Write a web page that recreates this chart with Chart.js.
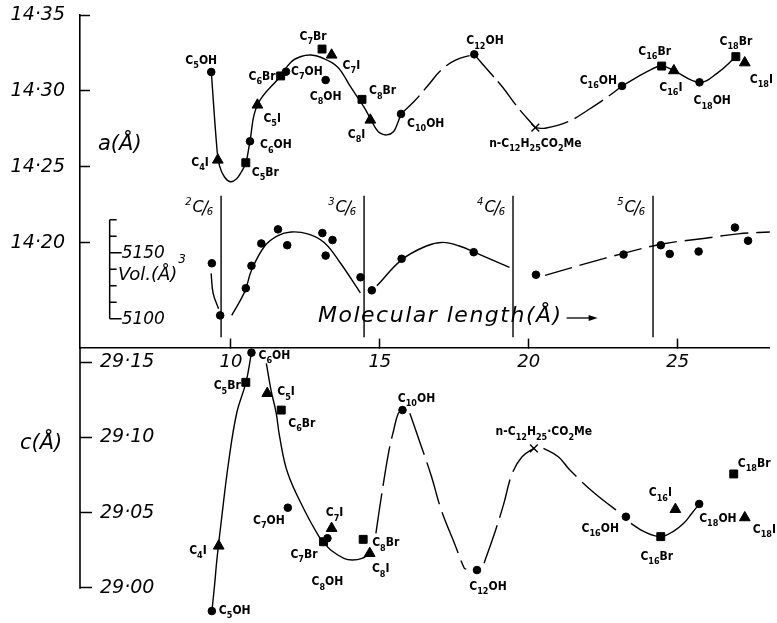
<!DOCTYPE html>
<html>
<head>
<meta charset="utf-8">
<script src="https://cdn.jsdelivr.net/npm/chart.js@4.4.0/dist/chart.umd.min.js"></script>
<style>
  html, body { margin: 0; padding: 0; background: #fff; }
</style>
</head>
<body>
<canvas id="chart" width="777" height="623"></canvas>
<script>
// compounds, in the order they are plotted in every panel
const compounds = ['C5OH', 'C4I', 'C5Br', 'C6OH', 'C5I', 'C6Br', 'C7OH', 'C7Br', 'C7I', 'C8OH', 'C8Br',
  'C8I', 'C10OH', 'C12OH', 'n-C12H25CO2Me', 'C16OH', 'C16Br', 'C16I', 'C18OH', 'C18Br', 'C18I'];

// molecular length (Å) as placed in each panel
const lengthsA = [9.34, 9.56, 10.50, 10.64, 10.89, 11.67, 11.85, 13.06, 13.38, 13.18, 14.40,
  14.68, 15.71, 18.17, 20.22, 23.13, 24.46, 24.87, 25.73, 26.95, 27.25];
const lengthsC = [9.36, 9.59, 10.50, 10.69, 11.22, 11.69, 11.91, 13.11, 13.38, 13.24, 14.44,
  14.66, 15.76, 18.26, 20.17, 23.26, 24.43, 24.92, 25.72, 26.88, 27.25];
const lengthsV = [9.36, 9.64, 10.50, 10.69, 11.02, 11.58, 11.89, 13.07, 13.41, 13.18, 14.35,
  14.73, 15.73, 18.15, 20.24, 23.18, 24.43, 24.73, 25.70, 26.92, 27.36];

// cell parameters and volume
const aValues = [14.3125, 14.2546, 14.2528, 14.2669, 14.2908, 14.3099, 14.3127, 14.3276, 14.3237, 14.3072, 14.2945,
  14.2809, 14.2849, 14.3241, 14.2759, 14.3033, 14.3164, 14.3134, 14.3057, 14.3226, 14.3186];
const cValues = [28.9847, 29.0279, 29.1365, 29.1562, 29.1292, 29.1181, 29.0533, 29.0307, 29.0396, 29.0330, 29.0323,
  29.0230, 29.1181, 29.0119, 29.0927, 29.0473, 29.0341, 29.0522, 29.0558, 29.0757, 29.0467];
const volValues = [5142.1, 5102.6, 5123.2, 5140.2, 5157.1, 5167.8, 5155.8, 5165.0, 5159.7, 5147.9, 5131.5,
  5121.6, 5145.5, 5150.5, 5133.4, 5148.7, 5155.8, 5149.2, 5151.0, 5169.2, 5159.2];

// ticks
const xTicks = [10, 15, 20, 25];
const aTicks = [14.20, 14.25, 14.30, 14.35];
const cTicks = [29.00, 29.05, 29.10, 29.15];
const volTicks = [5100, 5112.5, 5125, 5137.5, 5150, 5162.5, 5175];
const volTickLabels = [5100, 5150];

// multiples of c/6
const cSixths = [9.67, 14.47, 19.47, 24.17];
const cSixthsLabels = ['2', '3', '4', '5'];

// hand-drawn guide curves
const curveA1 = [[9.342, 14.3125], [9.535, 14.2612], [9.618, 14.2507], [9.784, 14.2434], [9.983, 14.2403],
  [10.183, 14.2421], [10.349, 14.2467], [10.505, 14.2528], [10.638, 14.2669], [10.890, 14.2908],
  [11.668, 14.3099], [12.020, 14.3191], [12.352, 14.3227], [12.684, 14.3237], [13.017, 14.3222],
  [13.571, 14.3160], [14.013, 14.3028], [14.458, 14.2897], [14.678, 14.2820], [14.834, 14.2763],
  [15.000, 14.2724], [15.233, 14.2711], [15.455, 14.2732], [15.598, 14.2789], [15.708, 14.2849]];
const curveA2 = [[15.708, 14.2849], [16.163, 14.2934], [16.628, 14.3039], [17.060, 14.3138], [17.558, 14.3204], [18.166, 14.3241]];
const curveA3 = [[18.166, 14.3241], [18.621, 14.3138], [19.110, 14.3028], [19.618, 14.2895], [20.216, 14.2759]];
const curveA4 = [[20.216, 14.2759], [20.548, 14.2755], [21.322, 14.2798], [21.987, 14.2875], [22.651, 14.2962], [23.130, 14.3033]];
const curveA5 = [[23.130, 14.3033], [23.970, 14.3127], [24.458, 14.3164], [24.867, 14.3134], [25.731, 14.3057], [26.329, 14.3118], [26.950, 14.3226]];

const curveV1 = [[9.336, 5134.5], [9.402, 5119.5], [9.585, 5107.6]];
const curveV2 = [[10.027, 5102.6], [10.472, 5121.0], [10.691, 5136.8], [11.136, 5155.2], [11.578, 5163.1],
  [12.020, 5165.8], [12.575, 5164.4], [13.130, 5157.9], [13.681, 5142.1], [14.346, 5119.7]];
const curveV3 = [[14.900, 5125.0], [15.731, 5144.7], [16.561, 5155.2], [17.116, 5157.9], [17.668, 5155.2], [18.223, 5150.0], [19.352, 5139.0]];
const curveV4 = [[20.548, 5132.9], [21.877, 5141.6], [23.206, 5149.8], [24.535, 5156.9], [25.864, 5160.9], [27.027, 5164.4], [28.09, 5165.8]];

const curveC1 = [[9.362, 28.9847], [9.452, 29.0020], [9.528, 29.0186], [9.694, 29.0473], [9.917, 29.0828],
  [10.193, 29.1160], [10.505, 29.1365], [10.691, 29.1562]];
const curveC2 = [[11.189, 29.1491], [11.346, 29.1314], [11.522, 29.1159], [11.635, 29.1004], [11.910, 29.0761],
  [12.465, 29.0518], [12.963, 29.0340], [13.106, 29.0307], [13.349, 29.0252], [13.794, 29.0197],
  [14.070, 29.0186], [14.402, 29.0197], [14.658, 29.0230]];
const curveC3 = [[14.867, 29.0363], [15.033, 29.0584], [15.289, 29.0894], [15.465, 29.1049], [15.621, 29.1160], [15.764, 29.1181]];
const curveC4 = [[16.007, 29.1160], [16.395, 29.0938], [16.728, 29.0743], [17.060, 29.0518], [17.502, 29.0297], [17.834, 29.0131], [17.90, 29.0125]];
const curveC5 = [[18.498, 29.0164], [18.887, 29.0385], [19.163, 29.0562], [19.442, 29.0761], [19.774, 29.0871], [20.173, 29.0927]];
const curveC6 = [[20.492, 29.0927], [20.990, 29.0871], [21.379, 29.0783], [22.209, 29.0629], [23.150, 29.0485]];
const curveC7 = [[23.429, 29.0429], [23.870, 29.0374], [24.425, 29.0341], [24.867, 29.0378], [25.199, 29.0429], [25.475, 29.0496], [25.721, 29.0558]];

// label offsets [dx, dy, align] relative to each marker
const labelPosA = [
  [-10, -11, 'center'], [-9, 3, 'right'], [6, 10, 'left'], [10, 4, 'left'], [6, 14, 'left'],
  [-5, 1, 'right'], [5, 0, 'left'], [-9, -12, 'center'], [11, 11, 'left'], [0, 17, 'center'],
  [7, -8, 'left'], [-5, 15, 'right'], [6, 10, 'left'], [-8, -13, 'left'], [0, 16, 'center'],
  [-5, -5, 'right'], [-7, -14, 'center'], [-3, 17, 'center'], [-6, 19, 'left'], [0, -15, 'center'], [5, 17, 'left']
];
const labelPosC = [
  [7, 0, 'left'], [-12, 5, 'right'], [-5, 4, 'right'], [7, 3, 'left'], [10, -1, 'left'],
  [7, 14, 'left'], [-3, 13, 'right'], [-6, 13, 'right'], [3, -15, 'center'], [0, 44, 'center'],
  [9, 4, 'left'], [11, 16, 'center'], [14, -11, 'center'], [11, 17, 'center'], [10, -16, 'center'],
  [-7, 12, 'right'], [-4, 20, 'center'], [-15, -16, 'center'], [0, 15, 'left'], [4, -10, 'left'], [8, 12, 'left']
];

const volAxisX = 5.93;
const FONT = '"DejaVu Sans"';
const LABEL_FONT = '"DejaVu Sans Condensed"';

const styleOf = n => n.endsWith('OH') ? 'circle' : n.endsWith('Br') ? 'rect' : n.endsWith('I') ? 'triangle' : 'crossRot';
const sizeOf = { circle: 3.8, rect: 5.6, triangle: 6.2, crossRot: 5.5 };
const pts = (xs, ys) => xs.map((x, i) => ({ x, y: ys[i] }));

function curve(arr, axis, dash) {
  return {
    data: arr.map(([x, y]) => ({ x, y })),
    yAxisID: axis,
    showLine: true,
    pointRadius: 0,
    borderColor: '#000',
    borderWidth: 1.4,
    borderDash: dash || [],
    tension: 0.4,
    clip: false
  };
}

function markers(xs, ys, axis, names, pos) {
  return {
    data: pts(xs, ys),
    yAxisID: axis,
    showLine: false,
    pointStyle: names.map(styleOf),
    pointRadius: names.map(n => sizeOf[styleOf(n)]),
    pointBorderWidth: names.map(n => styleOf(n) === 'crossRot' ? 1.4 : 1),
    backgroundColor: '#000',
    borderColor: '#000',
    clip: false,
    labels: names,
    labelPos: pos
  };
}

// draw chemical text with digit runs as subscripts
function drawChem(ctx, text, x, y, align, size) {
  const main = `bold ${size}px ${LABEL_FONT}`;
  const sub = `bold ${Math.round(size * 0.75)}px ${LABEL_FONT}`;
  const parts = text.match(/\d+|[^\d]+/g);
  let w = 0;
  const widths = parts.map(p => {
    ctx.font = /\d/.test(p[0]) ? sub : main;
    const m = ctx.measureText(p).width;
    w += m;
    return m;
  });
  let cx = align === 'left' ? x : align === 'right' ? x - w : x - w / 2;
  ctx.textAlign = 'left';
  ctx.textBaseline = 'middle';
  parts.forEach((p, i) => {
    const isSub = /\d/.test(p[0]);
    ctx.font = isSub ? sub : main;
    ctx.fillText(p, cx, isSub ? y + size * 0.42 : y);
    cx += widths[i];
  });
}

const labelPlugin = {
  id: 'chemLabels',
  afterDatasetsDraw(chart) {
    const ctx = chart.ctx;
    ctx.save();
    ctx.fillStyle = '#000';
    chart.data.datasets.forEach((ds, i) => {
      if (!ds.labelPos) return;
      chart.getDatasetMeta(i).data.forEach((el, j) => {
        const [dx, dy, al] = ds.labelPos[j];
        drawChem(ctx, ds.labels[j], el.x + dx, el.y + dy, al, 12);
      });
    });
    ctx.restore();
  }
};

const decorPlugin = {
  id: 'decor',
  afterDraw(chart) {
    const { ctx, scales: { x, ya, yc, yv } } = chart;
    ctx.save();
    ctx.fillStyle = '#000';
    ctx.strokeStyle = '#000';

    // spine of the c axis, ending at its lowest tick
    ctx.lineWidth = 1.6;
    ctx.beginPath();
    ctx.moveTo(yc.right, yc.top);
    ctx.lineTo(yc.right, yc.getPixelForValue(cTicks[0]) + 0.75);
    ctx.stroke();

    // inset volume axis
    const ax = x.getPixelForValue(volAxisX);
    const top = yv.getPixelForValue(volTicks[volTicks.length - 1]);
    const bot = yv.getPixelForValue(volTicks[0]);
    ctx.lineWidth = 1.5;
    ctx.beginPath();
    ctx.moveTo(ax, top);
    ctx.lineTo(ax, bot);
    volTicks.forEach(v => {
      const py = yv.getPixelForValue(v);
      ctx.moveTo(ax, py);
      ctx.lineTo(ax + (volTickLabels.includes(v) ? 12 : 7), py);
    });
    ctx.stroke();
    ctx.font = `italic 17px ${FONT}`;
    ctx.textAlign = 'left';
    ctx.textBaseline = 'middle';
    volTickLabels.forEach(v => ctx.fillText(String(v), ax + 12, yv.getPixelForValue(v) + 1));

    // c/6 labels
    cSixths.forEach((v, i) => {
      const xr = x.getPixelForValue(v) - 8;
      const ym = ya.getPixelForValue(14.2233);
      ctx.font = `italic 16px ${FONT}`;
      const wc = ctx.measureText('C').width;
      ctx.font = `italic 10px ${FONT}`;
      const wn = ctx.measureText(cSixthsLabels[i]).width;
      const w6 = ctx.measureText('6').width;
      const x0 = xr - (wn + wc + 4 + w6);
      ctx.fillText(cSixthsLabels[i], x0, ym - 5);
      ctx.font = `italic 16px ${FONT}`;
      ctx.fillText('C', x0 + wn + 1, ym);
      ctx.lineWidth = 1.3;
      ctx.beginPath();
      ctx.moveTo(x0 + wn + wc + 6, ym - 7);
      ctx.lineTo(x0 + wn + wc - 1, ym + 8);
      ctx.stroke();
      ctx.font = `italic 10px ${FONT}`;
      ctx.fillText('6', x0 + wn + wc + 4, ym + 5);
    });

    // axis titles
    ctx.font = `italic 21px ${FONT}`;
    ctx.fillText('a(Å)', 98, 145);
    ctx.fillText('c(Å)', 20, 444);
    ctx.font = `italic 18px ${FONT}`;
    ctx.fillText('Vol.(Å)', 118, 275);
    const wv = ctx.measureText('Vol.(Å)').width;
    ctx.font = `italic 12px ${FONT}`;
    ctx.fillText('3', 118 + wv + 1, 260);

    ctx.font = `italic 22px ${FONT}`;
    ctx.letterSpacing = '1.5px';
    ctx.fillText('Molecular length(Å)', 318, 316);
    const wm = ctx.measureText('Molecular length(Å)').width;
    ctx.letterSpacing = '0px';
    const ay = 318;
    const a0 = 318 + wm + 4;
    ctx.lineWidth = 1.3;
    ctx.beginPath();
    ctx.moveTo(a0, ay);
    ctx.lineTo(a0 + 28, ay);
    ctx.stroke();
    ctx.beginPath();
    ctx.moveTo(a0 + 31, ay);
    ctx.lineTo(a0 + 22, ay - 3);
    ctx.lineTo(a0 + 22, ay + 3);
    ctx.closePath();
    ctx.fill();
    ctx.restore();
  }
};

const tickFont = { family: FONT, size: 19, style: 'italic' };
const noPad = s => { s.paddingTop = 0; s.paddingBottom = 0; s.paddingLeft = 0; s.paddingRight = 0; };

const datasets = [
  curve(curveA1, 'ya'), curve(curveA2, 'ya', [26, 7]), curve(curveA3, 'ya', [30, 6]),
  curve(curveA4, 'ya', [34, 7]), curve(curveA5, 'ya'),
  curve(curveV1, 'yv'), curve(curveV2, 'yv'), curve(curveV3, 'yv'), curve(curveV4, 'yv', [28, 8]),
  curve(curveC1, 'yc'), curve(curveC2, 'yc'), curve(curveC3, 'yc', [40, 8]), curve(curveC4, 'yc', [44, 8]),
  curve(curveC5, 'yc', [40, 8]), curve(curveC6, 'yc', [44, 8]), curve(curveC7, 'yc'),
  ...cSixths.map(v => curve([[v, 14.231], [v, 14.138]], 'ya')),
  markers(lengthsA, aValues, 'ya', compounds, labelPosA),
  markers(lengthsC, cValues, 'yc', compounds.map(n => n.replace('H25', 'H25·')), labelPosC),
  {
    data: pts(lengthsV, volValues),
    yAxisID: 'yv',
    showLine: false,
    pointStyle: 'circle',
    pointRadius: 3.8,
    backgroundColor: '#000',
    borderColor: '#000',
    clip: false
  }
];

new Chart(document.getElementById('chart'), {
  type: 'scatter',
  data: { datasets },
  plugins: [labelPlugin, decorPlugin],
  options: {
    responsive: false,
    animation: false,
    devicePixelRatio: 1,
    layout: { padding: { top: 15, bottom: 11, left: 0, right: 0 } },
    plugins: { legend: { display: false }, tooltip: { enabled: false } },
    scales: {
      x: {
        type: 'linear',
        axis: 'x',
        min: 4.934,
        max: 28.09,
        position: { yc: 29.1593 },
        afterBuildTicks: s => { s.ticks = xTicks.map(v => ({ value: v })); },
        afterFit: s => { noPad(s); s.height = 0; },
        grid: { display: true, drawOnChartArea: false, tickLength: -10, color: '#000', tickWidth: 1.5 },
        border: { color: '#000', width: 1.6 },
        ticks: { padding: 14, color: '#000', font: { ...tickFont, size: 18 }, autoSkip: false, maxRotation: 0, callback: v => String(v) }
      },
      yc: {
        type: 'linear',
        axis: 'y',
        position: 'left',
        stack: 'left',
        stackWeight: 264,
        min: 28.98407,
        max: 29.1593,
        afterBuildTicks: s => { s.ticks = cTicks.map(v => ({ value: v })); },
        afterFit: s => { s.width = 80; noPad(s); },
        grid: { display: true, drawOnChartArea: false, tickLength: -12, color: '#000', tickWidth: 1.5 },
        border: { display: false },
        ticks: { mirror: true, padding: 20, color: '#000', font: tickFont, callback: v => v.toFixed(2).replace('.', '·') }
      },
      ya: {
        type: 'linear',
        axis: 'y',
        position: 'left',
        stack: 'left',
        stackWeight: 333,
        min: 14.1309,
        max: 14.35,
        afterBuildTicks: s => { s.ticks = aTicks.map(v => ({ value: v })); },
        afterFit: s => { s.width = 80; noPad(s); },
        grid: { display: true, drawOnChartArea: false, tickLength: -10, color: '#000', tickWidth: 1.5 },
        border: { color: '#000', width: 1.6 },
        ticks: { padding: 25, color: '#000', font: tickFont, callback: v => v.toFixed(2).replace('.', '·') }
      },
      yv: {
        type: 'linear',
        axis: 'y',
        display: false,
        min: 4877.9,
        max: 5330.2
      }
    }
  }
});
</script>
</body>
</html>
